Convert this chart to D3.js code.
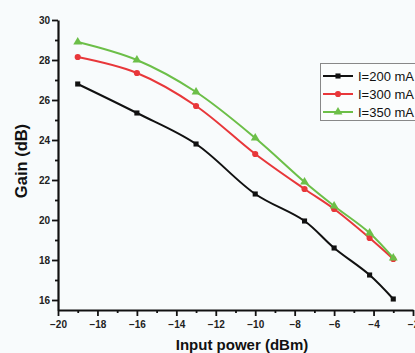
<!DOCTYPE html>
<html><head><meta charset="utf-8">
<script src="https://cdn.jsdelivr.net/npm/d3@7"></script>
<style>
html,body{margin:0;padding:0;background:#f8fbfc;overflow:hidden;}
svg{display:block;}
</style></head>
<body>
<script>
const inputPower = [-19, -16, -13, -10, -7.5, -6, -4.2, -3];
const gain200 = [26.8, 25.35, 23.8, 21.3, 19.95, 18.6, 17.25, 16.05];
const gain300 = [28.15, 27.35, 25.7, 23.3, 21.55, 20.55, 19.1, 18.05];
const gain350 = [28.9, 28.0, 26.4, 24.1, 21.9, 20.7, 19.35, 18.1];
const seriesNames = ["I=200 mA", "I=300 mA", "I=350 mA"];
const xTicks = [-20, -18, -16, -14, -12, -10, -8, -6, -4, -2];
const yTicks = [16, 18, 20, 22, 24, 26, 28, 30];
const xMinor = [-19, -17, -15, -13, -11, -9, -7, -5, -3];
const yMinor = [17, 19, 21, 23, 25, 27, 29];

const W = 415, H = 353;
const colors = ["#111111", "#e8373a", "#6cbf48"];
const shapes = [d3.symbolSquare, d3.symbolCircle, d3.symbolTriangle];
const sizes = [26, 30, 34];

const svg = d3.select("body").append("svg").attr("width", W).attr("height", H);

const x = d3.scaleLinear().domain([-20, -2]).range([58, 413]);
const y = d3.scaleLinear().domain([15.5, 30]).range([310, 20]);

const font = "Arial, 'Liberation Sans', sans-serif";

// Axes
const gx = svg.append("g").attr("transform", "translate(0,310)");
gx.call(d3.axisBottom(x).tickValues(xTicks).tickSize(6).tickSizeOuter(0).tickFormat(d3.format("d")));
const gxm = svg.append("g").attr("transform", "translate(0,310)");
gxm.call(d3.axisBottom(x).tickValues(xMinor).tickSize(3).tickSizeOuter(0).tickFormat(""));
gxm.select(".domain").remove();

const gy = svg.append("g").attr("transform", "translate(58,0)");
gy.call(d3.axisLeft(y).tickValues(yTicks).tickSize(6).tickSizeOuter(0).tickFormat(d3.format("d")));
const gym = svg.append("g").attr("transform", "translate(58,0)");
gym.call(d3.axisLeft(y).tickValues(yMinor).tickSize(3).tickSizeOuter(0).tickFormat(""));
gym.select(".domain").remove();

svg.selectAll(".domain").attr("stroke", "#111").attr("stroke-width", 2.2);
svg.selectAll(".tick line").attr("stroke", "#111").attr("stroke-width", 1.8);
svg.selectAll(".tick text").attr("fill", "#222").style("font-family", font)
   .style("font-size", "10px").style("font-weight", "bold");
gx.selectAll(".tick text").attr("dy", "0.85em");
gy.selectAll(".tick text").attr("x", -8);

// Axis titles
svg.append("text").attr("x", 242).attr("y", 350).attr("text-anchor", "middle")
  .style("font-family", font).style("font-size", "15px").style("font-weight", "bold")
  .attr("fill", "#111").text("Input power (dBm)");
svg.append("text").attr("transform", "translate(27,161) rotate(-90)").attr("text-anchor", "middle")
  .style("font-family", font).style("font-size", "16.5px").style("font-weight", "bold")
  .attr("fill", "#111").text("Gain (dB)");

// Lines
const allSeries = [gain200, gain300, gain350];
const line = d3.line().x(d => x(d[0])).y(d => y(d[1])).curve(d3.curveCatmullRom.alpha(0.5));
allSeries.forEach((vals, i) => {
  const pts = inputPower.map((p, j) => [p, vals[j]]);
  svg.append("path").datum(pts).attr("d", line).attr("fill", "none")
    .attr("stroke", colors[i]).attr("stroke-width", 2);
  svg.selectAll(null).data(pts).enter().append("path")
    .attr("transform", d => `translate(${x(d[0])},${y(d[1])})`)
    .attr("d", d3.symbol().type(shapes[i]).size(sizes[i]))
    .attr("fill", colors[i]);
});

// Legend
const lg = svg.append("g");
lg.append("rect").attr("x", 320.5).attr("y", 63.5).attr("width", 110).attr("height", 57)
  .attr("fill", "#fbfdfd").attr("stroke", "#888").attr("stroke-width", 1);
seriesNames.forEach((name, i) => {
  const yy = 76 + i * 18;
  lg.append("line").attr("x1", 323).attr("x2", 353).attr("y1", yy).attr("y2", yy)
    .attr("stroke", colors[i]).attr("stroke-width", 2);
  lg.append("path").attr("transform", `translate(338,${yy})`)
    .attr("d", d3.symbol().type(shapes[i]).size(sizes[i])).attr("fill", colors[i]);
  lg.append("text").attr("x", 358).attr("y", yy).attr("dy", "0.35em")
    .style("font-family", font).style("font-size", "13px").attr("fill", "#111").text(name);
});
</script>
</body></html>
